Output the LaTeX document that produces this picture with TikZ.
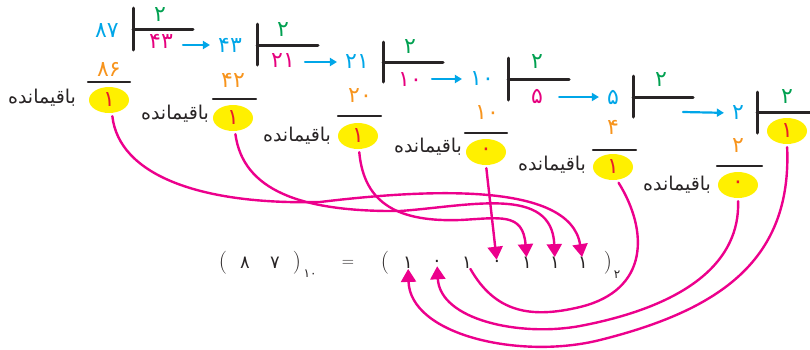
\documentclass[tikz,border=0pt]{standalone}
\usepackage{fontspec}
\usepackage{tikz}
\usetikzlibrary{arrows.meta,shapes.geometric}
\newfontfamily\arabicfont[Script=Arabic]{DejaVu Sans}
\TeXXeTstate=1
\definecolor{numblue}{RGB}{0,166,232}
\definecolor{numgreen}{RGB}{0,160,80}
\definecolor{nummagenta}{RGB}{230,0,126}
\definecolor{numorange}{RGB}{247,148,29}
\definecolor{remyellow}{RGB}{255,240,0}
\definecolor{remred}{RGB}{232,30,40}
\definecolor{linkpink}{RGB}{236,0,140}
\definecolor{textgray}{RGB}{40,36,37}

\begin{document}
\begin{tikzpicture}[
						x=1pt, y=-1pt,
						line cap=round,
						line join=round,
						num/.style={font=\arabicfont\fontsize{22}{22}\selectfont, inner sep=0pt},
						dividend/.style={num, text=numblue},
						divisor/.style={num, text=numgreen},
						quotient/.style={num, text=nummagenta},
						product/.style={num, text=numorange},
						remainder/.style={ellipse, fill=remyellow, minimum width=40pt, minimum height=26pt, inner sep=0pt, text=remred, font=\arabicfont\fontsize{22}{22}\selectfont},
						remlabel/.style={font=\arabicfont\fontsize{19}{19}\selectfont, text=textgray, inner sep=0pt},
						bracket/.style={line width=3pt, draw=textgray},
						fracline/.style={line width=2.2pt, draw=textgray},
						steparrow/.style={draw=numblue, line width=2.2pt, -{Triangle[length=7pt,width=8pt]}, shorten >=8pt},
						link/.style={draw=linkpink, line width=2.4pt, shorten <=3pt, -{Triangle[length=13pt,width=15pt]}},
						eqparen/.style={font=\fontsize{23}{23}\selectfont, text=textgray, inner sep=0pt},
						eqdigit/.style={font=\arabicfont\fontsize{18}{18}\selectfont, text=textgray, inner sep=0pt},
						eqsub/.style={font=\arabicfont\fontsize{12}{12}\selectfont, text=textgray, inner sep=0pt}
						]
						
						\useasboundingbox (0,0) rectangle (810,349);
						
						% Step 1
						\draw[bracket] (133,8) -- (133,50);
						\draw[bracket] (133,29) -- (193,29);
						\node[dividend] (n1) at (107,31) {۸۷};
						\node[divisor] (d1) at (160,15) {۲};
						\node[quotient] (q1) at (161,41) {۴۳};
						\node[product] (p1) at (109,69) {۸۶};
						\draw[fracline] (88,82) -- (130,82);
						\node[remainder] (r1) at (109,100) {۱};
						\node[remlabel] (w1) at (42,98) {\beginR باقیمانده\endR};
						
						% Step 2
						\draw[bracket] (257,24) -- (257,65);
						\draw[bracket] (257,45) -- (318,45);
						\node[dividend] (n2) at (230,45) {۴۳};
						\node[divisor] (d2) at (283,30) {۲};
						\node[quotient] (q2) at (283,61) {۲۱};
						\node[product] (p2) at (233,80) {۴۲};
						\draw[fracline] (213,99) -- (256,99);
						\node[remainder] (r2) at (233,118) {۱};
						\node[remlabel] (w2) at (175,114) {\beginR باقیمانده\endR};
						
						% Step 3
						\draw[bracket] (383,42) -- (383,82);
						\draw[bracket] (383,62) -- (443,62);
						\node[dividend] (n3) at (357,62) {۲۱};
						\node[divisor] (d3) at (410,47) {۲};
						\node[quotient] (q3) at (410,80) {۱۰};
						\node[product] (p3) at (360,96) {۲۰};
						\draw[fracline] (338,116) -- (381,116);
						\node[remainder] (r3) at (358,136) {۱};
						\node[remlabel] (w3) at (297,136) {\beginR باقیمانده\endR};
						
						% Step 4
						\draw[bracket] (508,58) -- (508,100);
						\draw[bracket] (508,79) -- (569,79);
						\node[dividend] (n4) at (482,79) {۱۰};
						\node[divisor] (d4) at (537,62) {۲};
						\node[quotient] (q4) at (537,96) {۵};
						\node[product] (p4) at (487,113) {۱۰};
						\draw[fracline] (465,133) -- (507,133);
						\node[remainder] (r4) at (486,152) {۰};
						\node[remlabel] (w4) at (428,147) {\beginR باقیمانده\endR};
						
						% Step 5
						\draw[bracket] (633,76) -- (633,117);
						\draw[bracket] (633,97) -- (693,97);
						\node[dividend] (n5) at (613,97) {۵};
						\node[divisor] (d5) at (661,80) {۲};
						\node[product] (p5) at (613,127) {۴};
						\draw[fracline] (593,150) -- (636,150);
						\node[remainder] (r5) at (613,167) {۱};
						\node[remlabel] (w5) at (552,165) {\beginR باقیمانده\endR};
						\coordinate (s5) at (683,112);
						
						% Step 6
						\draw[bracket] (757,92) -- (757,133);
						\draw[bracket] (757,112) -- (812,112);
						\node[dividend] (n6) at (738,113) {۲};
						\node[divisor] (d6) at (787,97) {۲};
						\node[remainder] (r7) at (787,131) {۱};
						\node[product] (p6) at (738,146) {۲};
						\draw[fracline] (717,166) -- (762,166);
						\node[remainder] (r6) at (738,185) {۰};
						\node[remlabel] (w6) at (677,185) {\beginR باقیمانده\endR};
						
						% Quotient carried to next step
						\draw[steparrow, shorten <=10pt] (q1.east |- n2) -- (n2.west);
						\draw[steparrow, shorten <=10pt] (q2.east |- n3) -- (n3.west);
						\draw[steparrow, shorten <=10pt] (q3.east |- n4) -- (n4.west);
						\draw[steparrow, shorten <=16pt] (q4.east |- n5) -- (n5.west);
						\draw[steparrow] (s5) -- (n6.west);
						
						% Result
						\node[eqparen] (lp1) at (223,263) {(};
						\node[eqdigit] (e8) at (245,263) {۸};
						\node[eqdigit] (e7) at (275,263) {۷};
						\node[eqparen] (rp1) at (297,263) {)};
						\node[eqsub] (s10) at (310,274) {۱۰};
						\node[eqparen, font=\fontsize{17}{17}\selectfont] (eq) at (348,263) {=};
						\node[eqparen] (lp2) at (385,263) {(};
						\node[eqdigit] (b1) at (408,263) {۱};
						\node[eqdigit] (b2) at (437,263) {۰};
						\node[eqdigit] (b3) at (467,263) {۱};
						\node[eqdigit] (b4) at (497,263) {۰};
						\node[eqdigit] (b5) at (527,263) {۱};
						\node[eqdigit] (b6) at (555,263) {۱};
						\node[eqdigit] (b7) at (583,263) {۱};
						\node[eqparen] (rp2) at (608,263) {)};
						\node[eqsub] (s2) at (617,275) {۲};
						
						% Remainders to binary digits
						\draw[link] ([xshift=3pt]r1.south) .. controls (119,175) and (200,205) .. (320,202) .. controls (420,190) and (570,180) .. ([xshift=-3pt,yshift=20pt]b7);
						\draw[link] ([xshift=2pt]r2.south) .. controls (243,190) and (300,212) .. (400,211) .. controls (470,206) and (552,185) .. ([xshift=-2pt,yshift=20pt]b6);
						\draw[link] ([xshift=1pt]r3.south) .. controls (364,205) and (400,222) .. (460,220) .. controls (500,218) and (523,212) .. ([xshift=-4pt,yshift=20pt]b5);
						\draw[link] (r4.south) -- ([yshift=13pt]b4);
						\draw[link, -] ([xshift=4pt]r5.south) .. controls (648,230) and (650,290) .. (580,307) .. controls (530,319) and (495,312) .. ([xshift=6pt,yshift=-29pt]b3);
						\draw[link] (r6.south) .. controls (740,260) and (690,305) .. (580,326) .. controls (520,337) and (440,320) .. ([xshift=3pt,yshift=-19pt]b2);
						\draw[link] (r7.south) .. controls (792,260) and (720,310) .. (600,340) .. controls (520,360) and (410,335) .. ([xshift=5pt,yshift=-19pt]b1);
						
					\end{tikzpicture}
\end{document}
